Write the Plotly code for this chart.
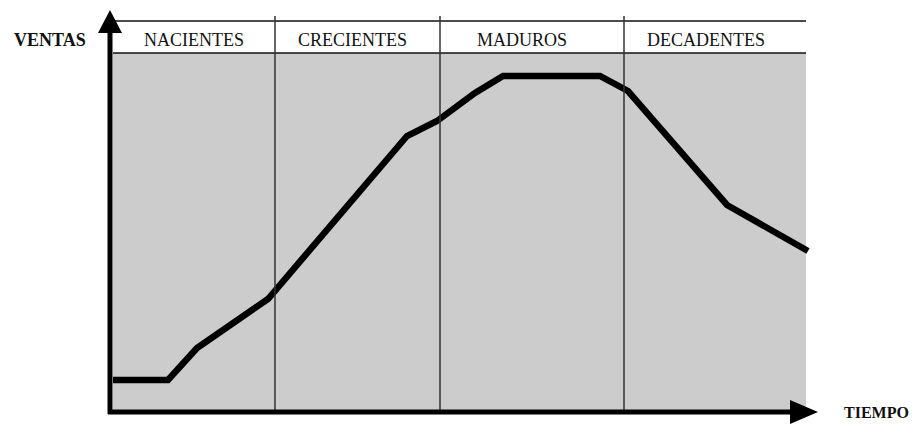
import plotly.graph_objects as go

# Ciclo de vida: ventas a lo largo del tiempo
tiempo = [3, 58, 87, 158, 297, 327, 365, 393, 490, 518, 617, 698]
ventas = [32, 32, 64, 113, 276, 291, 319, 336, 336, 321, 207, 161]

etapas = ["NACIENTES", "CRECIENTES", "MADUROS", "DECADENTES"]
limites = [3, 165, 330, 514, 696]

fig = go.Figure()

# Fondo gris del area de etapas
fig.add_shape(type="rect", x0=limites[0], x1=limites[-1], y0=0, y1=359,
              fillcolor="#cccccc", line_width=0, layer="below")

# Lineas de la cabecera
for yy in (359, 391):
    fig.add_shape(type="line", x0=limites[0], x1=limites[-1], y0=yy, y1=yy,
                  line=dict(color="#111", width=1.5))

# Separadores de etapas
for xx in limites[1:-1]:
    fig.add_shape(type="line", x0=xx, x1=xx, y0=0, y1=396,
                  line=dict(color="#333", width=1.5))

# Curva de ventas
fig.add_trace(go.Scatter(x=tiempo, y=ventas, mode="lines",
                         line=dict(color="black", width=6.5),
                         hoverinfo="skip"))

# Ejes con flechas
fig.add_shape(type="line", x0=0, x1=0, y0=-2, y1=382,
              line=dict(color="black", width=5))
fig.add_shape(type="path", path="M -12 379 L 12 379 L 0 402 Z",
              fillcolor="black", line_width=0)
fig.add_shape(type="line", x0=-2, x1=684, y0=0, y1=0,
              line=dict(color="black", width=5))
fig.add_shape(type="path", path="M 680 -12 L 680 12 L 708 0 Z",
              fillcolor="black", line_width=0)

# Etiquetas de etapas
centros = [84, 242, 412, 596]
for txt, cx in zip(etapas, centros):
    fig.add_annotation(x=cx, y=372, text=txt, showarrow=False,
                       font=dict(family="Liberation Serif", size=18, color="#111"),
                       xanchor="center", yanchor="middle")

fig.add_annotation(x=-60, y=372, text="<b>VENTAS</b>", showarrow=False,
                   font=dict(family="Liberation Serif", size=18, color="#111"),
                   xanchor="center", yanchor="middle")
fig.add_annotation(x=766, y=0, text="<b>TIEMPO</b>", showarrow=False,
                   font=dict(family="Liberation Serif", size=16, color="#111"),
                   xanchor="center", yanchor="middle")

# la pagina tiene 8px de margen en el body: se compensa en los rangos
fig.update_xaxes(range=[-102, 817], visible=False, fixedrange=True)
fig.update_yaxes(range=[-20, 404], visible=False, fixedrange=True)
fig.update_layout(width=919, height=424, margin=dict(l=0, r=0, t=0, b=0),
                  paper_bgcolor="white", plot_bgcolor="white",
                  showlegend=False)

fig.write_html("out.html")
